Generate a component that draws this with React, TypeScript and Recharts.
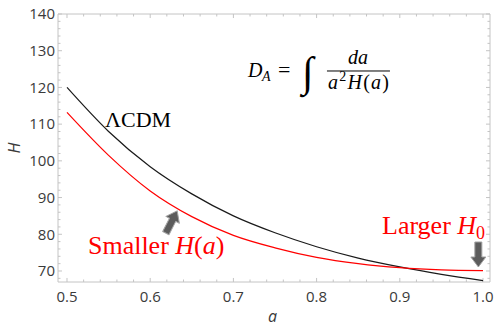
import React from 'react';
import { LineChart, Line, XAxis, YAxis, ReferenceArea, ReferenceLine, ReferenceDot } from 'recharts';

// scale factor a and H(a)
const scaleFactor = [0.5, 0.55, 0.6, 0.65, 0.7, 0.75, 0.8, 0.85, 0.9, 0.95, 1.0];
const hLambdaCDM = [120.0, 108.0, 98.4, 91.0, 85.0, 80.4, 76.6, 73.5, 71.1, 69.1, 67.4];
const hSmaller = [113.2, 101.5, 91.8, 84.8, 79.7, 76.3, 73.7, 72.0, 70.9, 70.3, 70.1];

const xTicks = [0.5, 0.6, 0.7, 0.8, 0.9, 1.0];
const yTicks = [70, 80, 90, 100, 110, 120, 130, 140];
const xMinorTicks = [
  0.52, 0.54, 0.56, 0.58, 0.62, 0.64, 0.66, 0.68, 0.72, 0.74, 0.76, 0.78,
  0.82, 0.84, 0.86, 0.88, 0.92, 0.94, 0.96, 0.98,
];
const yMinorTicks = [
  68, 72, 74, 76, 78, 82, 84, 86, 88, 92, 94, 96, 98, 102, 104, 106, 108,
  112, 114, 116, 118, 122, 124, 126, 128, 132, 134, 136, 138,
];

const data = scaleFactor.map((a, i) => ({ a, lcdm: hLambdaCDM[i], smaller: hSmaller[i] }));

const X_DOMAIN: [number, number] = [0.4892, 1.0084];
const Y_DOMAIN: [number, number] = [67, 140];
const FRAME = '#c4c4c4';
const SERIF = '"Liberation Serif", "Times New Roman", serif';
const SANS = '"Open Sans", "Noto Sans", sans-serif';

function Arrow({ cx, cy, angle }: { cx: number; cy: number; angle: number }) {
  return (
    <polygon
      points="0,-12.5 7.5,-2.5 3.5,-2.5 3.5,12.5 -3.5,12.5 -3.5,-2.5 -7.5,-2.5"
      transform={`translate(${cx},${cy}) rotate(${angle})`}
      fill="#5c5c5c"
      stroke="#a2a2a2"
      strokeWidth={1}
      strokeLinejoin="round"
    />
  );
}

function Formula({ cx, cy }: { cx: number; cy: number }) {
  return (
    <g fontFamily={SERIF} fill="#000">
      <text x={cx} y={cy} fontSize={20} fontStyle="italic">D</text>
      <text x={cx + 14} y={cy + 4} fontSize={14} fontStyle="italic">A</text>
      <text x={cx + 30} y={cy} fontSize={22}>=</text>
      <text x={cx + 54} y={cy + 9} fontSize={42}>∫</text>
      <text x={cx + 110} y={cy - 13} fontSize={20} fontStyle="italic" textAnchor="middle">da</text>
      <line x1={cx + 79} x2={cx + 142} y1={cy - 6} y2={cy - 6} stroke="#000" strokeWidth={1} />
      <text x={cx + 80} y={cy + 12} fontSize={20} textLength={61} lengthAdjust="spacing">
        <tspan fontStyle="italic">a</tspan>
        <tspan fontSize={14} dy={-8}>2</tspan>
        <tspan fontStyle="italic" dy={8}>H</tspan>
        <tspan>(</tspan>
        <tspan fontStyle="italic">a</tspan>
        <tspan>)</tspan>
      </text>
    </g>
  );
}

export default function App() {
  return (
    <div style={{ position: 'absolute', left: 0, top: 0, width: 494, height: 328, background: '#fff' }}>
      <LineChart width={494} height={328} data={data} margin={{ top: 14, right: 4, bottom: 0, left: 0 }}>
        <XAxis
          dataKey="a"
          type="number"
          domain={X_DOMAIN}
          allowDataOverflow
          ticks={xTicks}
          tickFormatter={(v: number) => v.toFixed(1)}
          axisLine={false}
          tickLine={false}
          tickSize={0}
          tickMargin={9}
          height={46}
          tick={{ fill: '#3a3a3a', fontSize: 15, fontFamily: SANS }}
          label={{
            content: ({ viewBox }: any) => (
              <text x={viewBox.x + viewBox.width / 2 - 1.5} y={322} textAnchor="middle" fontSize={16} fontStyle="italic" fontFamily={SANS} fill="#3a3a3a">a</text>
            ),
          }}
        />
        <YAxis
          type="number"
          domain={Y_DOMAIN}
          allowDataOverflow
          ticks={yTicks}
          axisLine={false}
          tickLine={false}
          tickSize={0}
          tickMargin={3}
          width={58}
          tick={{ fill: '#3a3a3a', fontSize: 15, fontFamily: SANS }}
          label={{
            content: ({ viewBox }: any) => {
              const cy = viewBox.y + viewBox.height / 2;
              return (
                <text x={14} y={cy} transform={`rotate(-90 14 ${cy})`} textAnchor="middle" dominantBaseline="central" fontSize={16} fontStyle="italic" fontFamily={SANS} fill="#3a3a3a">H</text>
              );
            },
          }}
        />

        <ReferenceArea x1={X_DOMAIN[0]} x2={X_DOMAIN[1]} y1={Y_DOMAIN[0]} y2={Y_DOMAIN[1]} fill="none" stroke={FRAME} strokeWidth={1} ifOverflow="visible" />
        {[...xTicks.map((t) => ({ t, len: 1.1 })), ...xMinorTicks.map((t) => ({ t, len: 0.68 }))].map(({ t, len }) => (
          <React.Fragment key={`x${t}`}>
            <ReferenceLine segment={[{ x: t, y: Y_DOMAIN[0] }, { x: t, y: Y_DOMAIN[0] + len }]} stroke={FRAME} ifOverflow="visible" />
            <ReferenceLine segment={[{ x: t, y: Y_DOMAIN[1] }, { x: t, y: Y_DOMAIN[1] - len }]} stroke={FRAME} ifOverflow="visible" />
          </React.Fragment>
        ))}
        {[...yTicks.map((t) => ({ t, len: 0.0048 })), ...yMinorTicks.map((t) => ({ t, len: 0.003 }))].map(({ t, len }) => (
          <React.Fragment key={`y${t}`}>
            <ReferenceLine segment={[{ x: X_DOMAIN[0], y: t }, { x: X_DOMAIN[0] + len, y: t }]} stroke={FRAME} ifOverflow="visible" />
            <ReferenceLine segment={[{ x: X_DOMAIN[1], y: t }, { x: X_DOMAIN[1] - len, y: t }]} stroke={FRAME} ifOverflow="visible" />
          </React.Fragment>
        ))}

        <Line type="monotone" dataKey="lcdm" stroke="#1a1a1a" strokeWidth={1.2} dot={false} isAnimationActive={false} />
        <Line type="monotone" dataKey="smaller" stroke="#ff0000" strokeWidth={1.2} dot={false} isAnimationActive={false} />

        <ReferenceDot x={0.5457} y={109.2} ifOverflow="visible" shape={(p: any) => (
          <text x={p.cx} y={p.cy} fontFamily={SERIF} fontSize={22} fill="#000">ΛCDM</text>
        )} />
        <ReferenceDot x={0.5252} y={74.6} ifOverflow="visible" shape={(p: any) => (
          <text x={p.cx} y={p.cy} fontFamily={SERIF} fontSize={26} fill="#ff0000">
            Smaller <tspan fontStyle="italic">H</tspan>(<tspan fontStyle="italic">a</tspan>)
          </text>
        )} />
        <ReferenceDot x={0.8786} y={80.1} ifOverflow="visible" shape={(p: any) => (
          <text x={p.cx} y={p.cy} fontFamily={SERIF} fontSize={26} fill="#ff0000">
            Larger <tspan fontStyle="italic">H</tspan><tspan fontSize={18} dy={5}>0</tspan>
          </text>
        )} />
        <ReferenceDot x={0.7175} y={122.84} ifOverflow="visible" shape={(p: any) => <Formula cx={p.cx} cy={p.cy} />} />
        <ReferenceDot x={0.6256} y={83.34} ifOverflow="visible" shape={(p: any) => <Arrow cx={p.cx} cy={p.cy} angle={27} />} />
        <ReferenceDot x={0.9944} y={74.49} ifOverflow="visible" shape={(p: any) => <Arrow cx={p.cx} cy={p.cy} angle={180} />} />
      </LineChart>
    </div>
  );
}
